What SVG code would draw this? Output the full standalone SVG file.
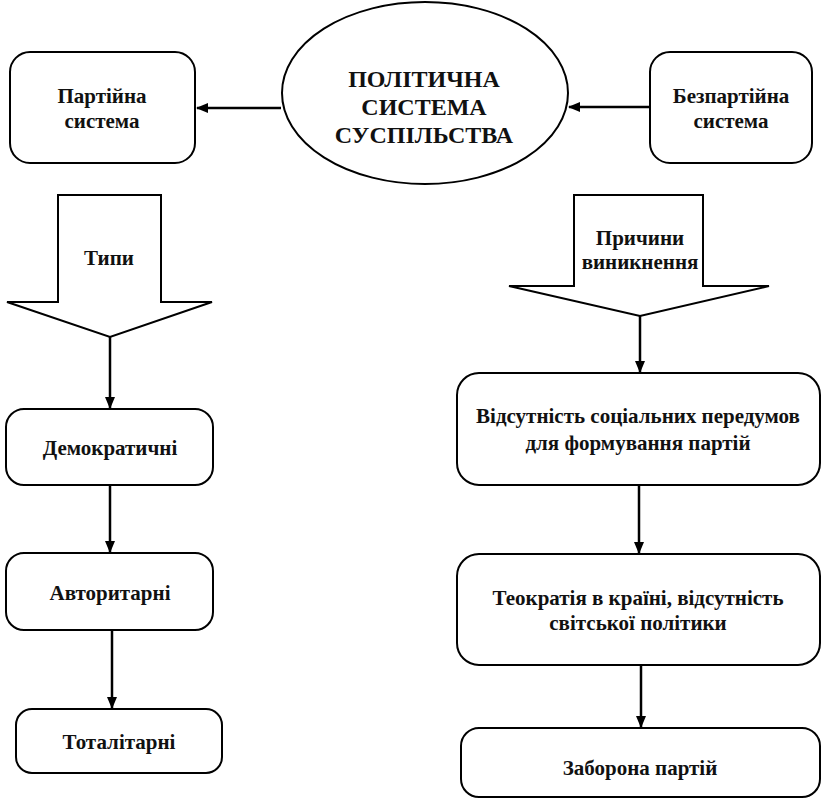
<svg xmlns="http://www.w3.org/2000/svg" width="821" height="800" viewBox="0 0 821 800">
<defs>
<marker id="ah" markerWidth="12" markerHeight="10" refX="11" refY="5" orient="auto" markerUnits="userSpaceOnUse">
<path d="M0,0 L12,5 L0,10 Z" fill="#000"/>
</marker>
<style>
.box{fill:#fff;stroke:#000;stroke-width:2}
.t{font-family:'Liberation Serif','Times New Roman',serif;font-weight:bold;font-size:21px;fill:#111;text-anchor:middle}
.big{font-size:24px}
.c{stroke:#000;stroke-width:2.5;fill:none}
</style>
</defs>
<rect width="821" height="800" fill="#fff"/>
<g id="center">
<ellipse class="box" cx="425" cy="93" rx="143" ry="91"/>
<text class="t big" x="424" y="87">ПОЛІТИЧНА</text>
<text class="t big" x="424" y="115">СИСТЕМА</text>
<text class="t big" x="424" y="143">СУСПІЛЬСТВА</text>
</g>
<g id="party">
<rect class="box" x="10" y="52" width="185" height="111" rx="20"/>
<text class="t" x="102" y="103">Партійна</text>
<text class="t" x="102" y="128">система</text>
</g>
<g id="nonparty">
<rect class="box" x="650" y="52" width="162" height="111" rx="20"/>
<text class="t" x="731" y="103">Безпартійна</text>
<text class="t" x="731" y="128">система</text>
</g>
<g id="types">
<path class="box" d="M58,195 L161,195 L161,302 L212,302 L110,337 L7,302 L58,302 Z"/>
<text class="t" x="109" y="265">Типи</text>
</g>
<g id="reasons">
<path class="box" d="M574,195 L703,195 L703,286 L769,286 L640,316 L509,286 L574,286 Z"/>
<text class="t" x="640" y="245">Причини</text>
<text class="t" x="640" y="269">виникнення</text>
</g>
<g id="dem">
<rect class="box" x="6" y="409" width="207" height="76" rx="18"/>
<text class="t" x="110" y="455">Демократичні</text>
</g>
<g id="auth">
<rect class="box" x="6" y="553" width="207" height="77" rx="18"/>
<text class="t" x="110" y="600">Авторитарні</text>
</g>
<g id="total">
<rect class="box" x="16" y="709" width="206" height="64" rx="16"/>
<text class="t" x="119" y="749">Тоталітарні</text>
</g>
<g id="r1">
<rect class="box" x="457" y="373" width="363" height="112" rx="22"/>
<text class="t" x="638" y="423">Відсутність соціальних передумов</text>
<text class="t" x="638" y="450">для формування партій</text>
</g>
<g id="r2">
<rect class="box" x="457" y="554" width="363" height="111" rx="22"/>
<text class="t" x="638" y="605">Теократія в країні, відсутність</text>
<text class="t" x="638" y="630">світської політики</text>
</g>
<g id="r3">
<rect class="box" x="461" y="728" width="359" height="69" rx="18"/>
<text class="t" x="640" y="775">Заборона партій</text>
</g>
<g id="connectors">
<line class="c" x1="281" y1="108" x2="197" y2="108" marker-end="url(#ah)"/>
<line class="c" x1="650" y1="107" x2="569" y2="107" marker-end="url(#ah)"/>
<line class="c" x1="110" y1="337" x2="110" y2="408" marker-end="url(#ah)"/>
<line class="c" x1="110" y1="485" x2="110" y2="552" marker-end="url(#ah)"/>
<line class="c" x1="112" y1="630" x2="112" y2="708" marker-end="url(#ah)"/>
<line class="c" x1="640" y1="316" x2="640" y2="372" marker-end="url(#ah)"/>
<line class="c" x1="639" y1="485" x2="639" y2="553" marker-end="url(#ah)"/>
<line class="c" x1="641" y1="665" x2="641" y2="727" marker-end="url(#ah)"/>
</g>
</svg>
